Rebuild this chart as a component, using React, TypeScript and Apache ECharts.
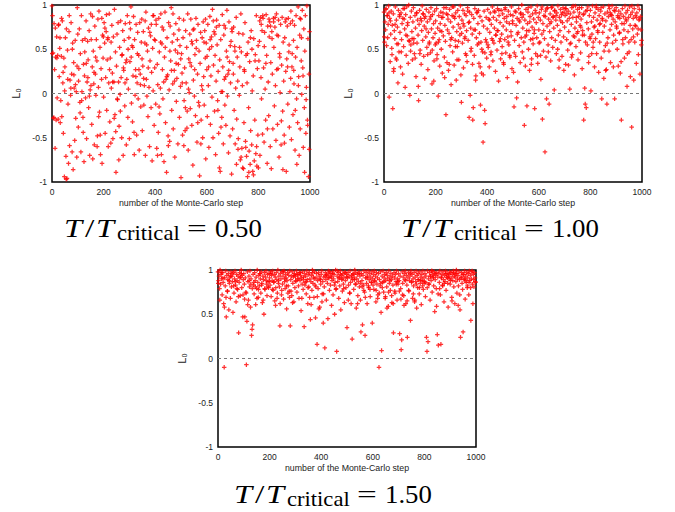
import React, { useEffect, useRef } from "react";
import * as echarts from "echarts";

const xTickValues = [0, 200, 400, 600, 800, 1000];
const yTickValues = [-1, -0.5, 0, 0.5, 1];
const xAxisTitle = "number of the Monte-Carlo step";
const yAxisTitle = "L\u2080";
const ratioLabels = ["0.50", "1.00", "1.50"];

// L0 values (x100) at even Monte-Carlo steps 0,2,4,... and odd steps 1,3,5,...
// T/Tc = 0.50
const l0Ratio050Even = [
  99, 88, 46, -28, 79, 27, -62, 41, -30, 64, -5, 43, -29, 78, 19, 51, -33, -8, 42, -26, 82, 12, -45, 40, -94, 30, 63, -71, 73, -96, 49, -12, -79, 70, -59, 15, -2, 80, 22, -66, 57, -86, 35, 6, -53, 60, -28, 2, -72, 97,
  67, -38, 28, 73, -10, 45, -66, 88, 2, 60, -27, 33, -77, 20, 62, -5, 82, -51, 13, 59, 38, -16, 71, -70, 4, 90, 61, -35, 30, -74, 48, 11, -58, 76, 22, -2, 61, 37, -48, 84, 7, 93, -21, 52, -69, 28, 16, -79, 66, 40,
  -4, 80, 57, -45, 18, 70, -19, 38, 61, -60, 12, 90, -32, 40, -56, 6, 77, 23, -51, 64, 13, 95, -24, 47, -89, 31, 67, -7, 80, 13, -37, 52, -1, 82, 18, -50, 44, 71, -70, 26, 60, -14, 79, 35, -58, 16, 88, -27, 5, 63,
  -51, 36, 73, 98, -11, 54, -32, 20, 87, -44, 61, -2, 27, 78, -47, 12, 69, -6, 43, -64, 80, 22, -15, 58, 84, -42, 31, 70, -13, 9, 57, -70, 92, 16, -3, 48, -26, 74, 7, -60, 37, 65, -16, 24, -76, 51, 3, 88, -36, 29,
  60, -12, 78, -62, 33, 10, -44, 85, 47, -23, 6, 90, -69, 56, 27, -6, 72, -77, 41, 92, -33, 16, -89, 63, 21, -48, 80, 4, -54, 76, 37, 97, -19, 58, 11, -40, 67, 26, -72, 49, 79, -9, 17, 61, -57, 33, 72, -27, 54, 8,
  -95, 45, 23, -47, 63, 83, -8, 29, -42, 71, 12, 52, -20, 90, -64, 39, 1, 67, -17, 84, 31, -36, 56, -81, 15, 73, -3, 44, -25, 85, 60, -55, 22, 78, -10, 48, -93, 34, 69, -30, 9, 63, -50, 81, 19, -13, 71, 40, -74, 57,
  27, -26, 78, 9, -61, 50, 87, -35, 20, 64, -4, 95, -50, 32, 70, -20, 43, -69, 14, 83, 55, -8, 25, -45, 77, 38, -88, 61, 2, -27, 89, 30, -57, 66, 16, -13, 74, -36, 48, 94, -3, 22, -67, 81, 36, -48, 12, 59, -91, 70,
  -40, 34, 75, -19, 53, -57, 6, 86, -29, 41, 14, -51, 68, -2, 30, -75, 90, 47, -62, 9, 67, -85, -33, 25, 80, -54, 43, -71, 12, -94, 58, -16, -65, 36, -80, -42, 71, -58, 3, -88, 20, 62, -76, -30, 44, -68, 88, -82, 28, -47,
  -84, 37, 59, -70, 86, 18, -6, 71, -46, 85, 29, -55, 69, 5, -30, 89, 43, -79, 76, 13, -25, 64, 81, -60, 35, -85, 70, 22, -40, 85, 52, -14, 75, 9, -53, 90, 66, -35, 28, 83, -72, 45, 1, 78, -58, 32, 86, -20, 58, 14,
  -47, 63, 81, 25, -88, 39, 76, -12, 85, 47, -38, 2, 79, 93, -52, 30, 82, -24, 60, 11, 77, -64, 41, 88, -6, 52, -33, 98, 19, -70, 66, -40, 84, 37, -1, 94, 29, -61, 73, -16, 48, 88, -45, 7, 99, -30, 62, -94, 22, 70,
];
const l0Ratio050Odd = [
  45, 81, -31, -27, 67, 9, 74, -35, 58, 40, -92, 18, 77, -4, -41, 63, 33, -76, 85, 49, -18, 24, -83, 69, 3, 55, -66, -97, 37, 61, 16, -24, 72, 88, -48, 29, 6, -58, 93, 50, -13, 65, 21, -87, 44, 10, 76, -39, 31, 59,
  -63, 14, 56, 81, -22, 39, 68, -8, 91, 26, -44, 5, 73, 47, -67, 60, 34, -29, 83, 18, 62, -52, -3, 43, 78, 9, -35, 57, 87, 30, -71, 24, 66, -15, 41, 95, 3, -60, 53, 80, -26, 19, 70, -47, 36, 11, 85, -12, 48, 64,
  31, -55, 74, 8, 51, 89, -37, 20, 63, 42, -82, 27, 79, -10, 58, 35, -63, 13, 92, 54, -28, 70, 16, -43, 86, 39, -6, 61, 25, -75, 48, 81, -20, 7, 67, 43, -52, 93, 29, -33, 58, 12, 84, -65, 38, 73, -4, 50, 22, -41,
  80, 15, -58, 41, 66, -25, 52, 3, 77, -69, 34, 91, 19, -39, 60, 45, -9, 71, 27, -53, 85, 10, 56, -31, 39, 74, -74, 17, 63, -18, 82, 36, -46, 55, 8, 94, 29, -62, 46, 69, 5, -35, 78, 23, -66, 88, 40, -11, 61, 14,
  -31, 83, 50, 21, -70, 64, 38, -15, 87, 9, 58, -49, 30, 75, -81, 44, 13, 69, -25, 52, 96, -42, 19, 61, 35, -59, 80, 6, 48, -17, 73, 26, -86, 57, 90, -32, 41, 14, 66, -52, 34, 79, -7, 46, 22, -64, 85, 55, -20, 39,
  68, -28, 12, 76, 44, -59, 30, 87, -16, 53, 64, -39, 22, 81, 5, -71, 47, 35, 92, -24, 59, 16, -50, 72, 40, -86, 27, 66, -8, 51, 83, 19, -33, 62, 43, -14, 78, 26, -57, 90, 37, 4, -44, 69, 58, -23, 15, 84, -66, 47,
  42, 71, -15, 30, 90, -42, 61, 18, -73, 53, 36, -6, 82, 47, -31, 67, 9, -58, 75, 28, 93, -19, 44, 60, -84, 13, 70, -38, 51, 86, 2, -53, 34, 77, -24, 56, 19, -68, 81, 41, -10, 64, 26, -43, 88, 54, -29, 7, 73, 35,
  -58, 22, 67, -70, 48, -36, 81, -80, 14, 59, -63, 33, -90, 52, -45, 75, -72, 8, 40, -84, 62, -52, 27, -96, 71, -61, 18, -77, 45, -68, 86, -89, 31, -55, 63, -82, 9, 50, -73, 24, -92, 66, -48, 37, -85, 79, -60, 15, -78, 54,
  69, -77, 82, 44, -64, 78, 25, -48, 88, 71, -18, 53, 80, -66, 34, 73, 87, -40, 60, 16, 84, -82, 48, 76, -27, 90, 62, -56, 39, 81, -10, 70, 86, -74, 52, 27, 77, -44, 65, 89, -63, 41, 79, 4, -31, 72, 56, -86, 83, 33,
  -56, 78, 46, 84, -22, 67, 30, -76, 89, 55, -48, 72, 17, 81, -35, 45, 94, -67, 26, 75, 50, -19, 86, 38, -80, 60, 83, 9, -43, 71, 85, 41, -28, 63, 96, -55, 20, 76, 52, -89, 68, 31, -7, 91, 58, -36, 80, 24, -63, 74,
];

// T/Tc = 1.00
const l0Ratio100Even = [
  92, 58, 81, 72, 96, 54, 88, 63, 78, 99, -4, 85, 36, 67, 93, 51, 77, -17, 90, 28, 71, 62, 98, 40, 83, 56, 75, 12, 94, 47, 87, 69, 30, 91, 61, 79, 22, 96, 53, 84, 73, 7, 89, 43, 98, 65, 80, 34, 100, 59,
  -2, 86, 55, 93, 70, 38, 81, 97, 62, 45, 88, 74, 19, 91, 57, 83, 66, -8, 78, 94, 49, 85, 33, 71, 99, 60, 90, 42, 76, 17, 87, 64, 95, 52, 81, 27, 69, 92, 58, 84, 46, 97, 73, 11, 89, 63, 79, 37, 93, 68,
  82, 57, 96, 44, 74, -3, 88, 61, 31, 79, 92, 50, 70, 23, 86, 65, 97, 41, 77, 59, -24, 90, 35, 72, 84, 26, 68, 95, 54, 81, 10, 63, 88, 47, 75, 98, 32, 85, 60, 91, 15, 70, 53, 94, 78, 38, 87, 66, 99, 21,
  -10, 83, 57, 94, 29, 76, 90, 64, 45, 88, 71, 36, 97, 60, 80, -27, 92, -2, 74, 51, 89, 67, -30, -16, 85, 43, 96, 72, 20, 63, 91, 55, 79, 94, 34, 68, 87, -13, 58, 23, 82, 47, -55, 76, 93, -19, -34, 61, 86, 40,
  73, 95, 52, 84, 30, 69, 91, 44, 78, 62, 98, 37, 86, 57, 74, 92, 25, 66, 83, 49, 96, 71, 14, 88, 59, 80, 39, 94, 67, 53, 90, 76, 33, 85, 61, 97, 46, 72, 87, 18, 64, 93, 55, 79, 41, 89, 70, 98, 28, 82,
  88, 24, -15, 60, 93, 42, 77, -5, 85, 13, 69, 96, 54, 81, 35, 91, 63, 100, 47, 74, 89, 58, -36, 83, 31, 95, 66, -14, 79, 92, 50, 71, 26, 87, 61, 98, 39, 75, 90, 56, 84, 68, -17, 94, 45, 80, 63, 99, 34, 86,
  72, 91, 58, 83, 16, 95, 67, -29, 79, 48, 88, 62, -66, 93, 41, -6, 76, 97, 55, 84, -12, 70, 90, 37, 81, 63, 98, 52, 87, 74, 4, 94, 60, 83, 45, 91, 77, 99, 66, 29, 86, 71, 95, 58, 89, 42, 80, 97, 64, 92,
  75, 88, 33, 96, 61, 82, 49, 93, 70, 85, 5, 90, 57, 78, 97, 44, 86, 65, 92, 21, 74, 99, 53, 81, 68, 95, 38, 87, 60, 91, 77, 46, 84, 97, 28, 71, 89, -30, 66, 6, -12, 93, -16, 80, 55, 98, 73, 42, 88, 64,
  94, 3, 81, 67, 99, 52, 86, 75, 30, 91, 62, 97, 45, 83, 71, 95, 24, 88, 58, 79, 93, 40, -6, 85, 69, 98, 17, 76, 90, 54, 82, 27, -12, 92, 63, 87, 48, 96, 72, 35, 89, 78, 99, 57, 84, 66, 94, -6, 81, 60,
  97, 74, 50, 88, 31, 93, 68, 85, 23, 90, -30, 79, 96, 56, 87, 72, 40, 99, 63, 91, 82, 8, 94, 70, 86, 47, 98, 77, 89, 61, -38, 92, 73, 85, 15, 96, 58, 88, 76, 34, 91, 67, 99, 44, 83, 95, 22, 87, 72, 60,
];
const l0Ratio100Odd = [
  64, 83, 41, 95, 70, 52, 88, 35, 76, 91, 59, 9, 82, 67, 97, 44, 73, 86, 25, 61, 93, 78, 50, 84, 38, 68, 99, 56, 80, 16, 89, 63, 74, 47, 92, 58, 85, 31, 71, 96, 53, 81, 66, 20, 90, 77, 42, 87, 60, 95,
  72, 48, 86, 93, 62, 27, 79, 57, 98, 69, 40, 84, 75, 91, 53, 66, 8, 88, 71, 45, 96, 59, 82, 34, 77, 90, 64, 51, 85, 97, 23, 73, 61, 89, 44, 80, 94, 56, 68, 31, 87, 76, 99, 49, 63, 83, 14, 92, 70, 55,
  88, 67, 39, 94, 75, 58, 83, 29, 71, 96, 62, 86, 47, 79, 91, 54, 68, 18, 85, 73, 97, 42, 64, 89, 56, 80, 33, 93, 70, 61, 84, 48, 98, 76, 25, 87, 65, 91, 53, 78, 95, 38, 69, 82, 59, 99, 45, 74, 86, 12,
  68, 91, 50, 79, 36, 87, 62, 97, 74, 43, 84, 58, 93, 27, 70, 81, 64, 96, 48, 76, 89, 33, 60, 85, 72, 98, 52, 15, 78, 66, 92, 41, 83, 57, 95, 69, 30, 87, 75, 50, 90, 62, 21, 80, 94, 46, 71, 84, 58, 97,
  77, 55, 90, 38, 83, 69, 96, 47, 74, 88, 60, 22, 85, 93, 52, 79, 66, 98, 41, 71, 87, 56, 94, 29, 76, 62, 91, 83, 45, 99, 68, 35, 86, 73, 95, 50, 64, 81, 11, 89, 58, 77, 97, 43, 70, 92, 65, 84, 32, 79,
  95, 61, 46, 87, 73, 92, 37, 80, 67, 99, 54, 83, 19, 75, 90, 48, 69, 86, 58, 96, 40, 78, 88, 64, 27, 93, 71, 52, 85, 97, 44, 66, 81, 59, 94, 33, 76, 89, 62, 98, 50, 72, 87, 18, 91, 65, 80, 42, 96, 70,
  57, 86, 94, 43, 78, 65, 98, 31, 82, 71, 90, 52, 87, 24, 75, 96, 60, 84, 47, 92, 68, 79, 35, 89, 97, 55, 73, 86, 41, 63, 93, 80, 13, 88, 69, 99, 50, 77, 85, 38, 95, 61, 82, 72, 46, 91, 58, 87, 26, 78,
  83, 96, 62, 48, 90, 74, 87, 32, 79, 98, 56, 68, 93, 41, 85, 72, 99, 20, 77, 64, 91, 53, 86, 95, 45, 70, 82, 37, 97, 60, 88, 75, 51, 93, 66, 84, 28, 90, 71, 97, 58, 80, 43, 94, 67, 86, 35, 78, 92, 62,
  90, 71, 45, 96, 82, 58, 88, 33, 76, 93, 64, 99, 50, 85, 69, 18, 92, 78, 55, 87, 97, 41, 73, 83, 62, 95, 48, 80, 90, 26, 68, 94, 57, 86, 75, 99, 39, 81, 91, 65, 52, 88, 96, 72, 30, 84, 77, 93, 60, 89,
  76, 93, 55, 86, 42, 98, 69, 81, 90, 36, 74, 95, 61, 87, 50, 79, 92, 28, 84, 66, 97, 45, 73, 89, 58, 94, 80, 19, 88, 70, 99, 53, 82, 64, 91, 39, 77, 95, 60, 86, 46, 90, 73, 97, 31, 84, 67, 93, 55, 88,
];

// T/Tc = 1.50
const l0Ratio150Even = [
  98, 88, 93, 79, 100, 84, 95, 90, 72, 97, 86, 62, -10, 91, 82, 99, 47, 94, 76, 89, 96, 55, 85, 92, 68, 98, 81, 93, 87, 52, 97, 74, 90, 99, 83, 64, 95, 88, 78, 93, 29, 86, 97, 71, 92, 100, 80, 94, 47, 89,
  96, 84, 47, 91, 75, -7, 42, 98, 87, 66, 93, 81, 99, 58, 90, 26, 33, 38, 95, 83, 73, 97, 88, 61, 92, 79, 100, 86, 69, 94, 82, 96, 90, 74, 98, 85, 63, 93, 89, 50, 97, 78, 92, 99, 84, 71, 95, 87, 80, 96,
  91, 83, 98, 70, 94, 88, 99, 77, 86, 95, 65, 92, 80, 97, 89, 74, 100, 85, 93, 81, 37, 96, 90, 72, 98, 84, 93, 67, 99, 87, 79, 95, 91, 56, 88, 97, 82, 94, 76, 99, 37, 89, 93, 71, 98, 85, 92, 64, 96, 80,
  93, 87, 99, 75, 90, 95, 82, 68, 97, 88, 94, 54, 91, 84, 98, 78, 92, 36, 96, 86, 93, 73, 99, 89, 62, 95, 81, 97, 90, 44, 87, 94, 77, 100, 85, 92, 69, 98, 83, 46, 91, 96, 16, 88, 79, 97, 93, 58, 90, 84,
  95, 99, 73, 87, 40, 92, 81, 12, 97, 89, 66, 94, 85, 45, 99, 91, 77, 96, 83, 93, 60, 88, 98, 72, 90, 95, 50, 86, 100, 79, 8, 93, 87, 97, 68, 91, 82, 99, 55, 94, 89, 76, 96, 84, 92, 63, 98, 88, 80, 95,
  35, 91, 97, 83, 93, 74, 99, 86, 62, 94, 22, 89, 96, 78, 92, 100, 84, 97, 57, 90, 95, 71, 87, 98, 81, 93, 66, 30, 96, 88, 38, 94, 83, 99, 75, 26, 91, 97, 85, 62, 93, 99, 80, 89, 96, 70, 92, 86, 98, 40,
  90, 95, 78, 99, 87, 93, 64, 97, 84, 91, 72, 96, -10, 89, 82, 98, 52, 9, 93, 86, 99, 75, 91, 95, 68, 88, 97, 81, 94, 90, 59, 99, 85, 92, 77, 96, 89, 63, 93, 83, 29, 97, 91, 74, 95, 87, 99, 66, 90, 84,
  96, 88, 28, 93, 79, 10, 21, 98, 85, 92, 71, 96, 89, 99, 62, 94, 83, 24, 91, 97, 76, 88, 93, 43, 99, 86, 95, 68, 90, 82, 97, 64, 92, 87, 99, 57, 94, 80, 96, 89, 73, 98, 85, 92, 61, 95, 88, 99, 78, 91,
  87, 96, 70, 93, 24, 8, 99, 19, 90, 84, 97, 66, 93, 88, 99, 75, 95, 91, 82, 98, 53, 89, 94, 79, 97, 27, 92, 15, 96, 86, 99, 72, 16, 91, 95, 83, 98, 89, 64, 94, 87, 99, 77, 92, 96, 85, 58, 93, 90, 98,
  84, 97, 91, 69, 95, 88, 99, 81, 93, 62, 96, 87, 100, 74, 90, 94, 82, 98, 89, 55, 24, 92, 97, 85, 78, 30, 95, 89, 99, 67, 93, 86, 97, 80, 91, 96, 72, 99, 88, 94, 43, 90, 98, 84, 62, 95, 81, 97, 91, 86,
];
const l0Ratio150Odd = [
  85, 72, 94, 66, 89, 78, 97, 61, 83, 91, 74, 87, 58, 95, 80, 69, 92, 84, 76, 99, 63, 88, 81, 71, 93, 86, 77, 96, 68, 90, 82, 73, 98, 87, 60, 94, 79, 89, 85, 70, 97, 75, 91, 64, 83, 96, 78, 88, 72, 93,
  80, 67, 91, 86, 74, 98, 82, 61, 94, 77, 88, 70, 95, 84, 57, 90, 79, 97, 73, 86, 63, 92, 81, 76, 99, 68, 87, 93, 78, 84, 59, 96, 72, 89, 83, 75, 94, 66, 90, 85, 79, 97, 70, 88, 62, 93, 81, 76, 95, 87,
  72, 89, 96, 64, 83, 78, 93, 70, 87, 99, 75, 60, 91, 84, 68, 95, 80, 88, 73, 97, 62, 86, 92, 77, 83, 71, 98, 88, 65, 90, 79, 94, 82, 58, 87, 74, 96, 89, 69, 93, 81, 76, 99, 85, 63, 91, 78, 94, 70, 86,
  88, 76, 63, 95, 82, 71, 90, 86, 59, 97, 79, 84, 68, 93, 75, 89, 98, 66, 83, 91, 73, 87, 54, 96, 80, 77, 94, 69, 88, 85, 61, 92, 78, 97, 72, 86, 90, 64, 95, 81, 74, 99, 70, 87, 83, 56, 93, 79, 89, 76,
  90, 64, 84, 97, 73, 88, 79, 93, 61, 86, 95, 70, 82, 91, 75, 57, 98, 85, 68, 92, 80, 74, 96, 63, 89, 83, 71, 94, 78, 87, 60, 99, 81, 72, 91, 86, 67, 95, 77, 84, 90, 62, 93, 79, 88, 70, 97, 83, 75, 92,
  78, 93, 66, 86, 97, 74, 82, 59, 91, 88, 70, 95, 80, 64, 89, 76, 98, 84, 71, 93, 62, 87, 79, 96, 73, 90, 85, 67, 94, 81, 55, 92, 77, 88, 99, 69, 84, 75, 91, 63, 96, 82, 72, 89, 78, 94, 66, 86, 80, 97,
  83, 71, 95, 88, 63, 91, 77, 86, 98, 68, 82, 93, 74, 60, 89, 85, 96, 72, 80, 92, 66, 87, 78, 99, 70, 84, 90, 57, 94, 81, 75, 97, 65, 88, 83, 92, 71, 79, 95, 62, 86, 90, 76, 98, 69, 84, 93, 73, 87, 80,
  91, 76, 84, 97, 67, 89, 82, 72, 94, 86, 60, 92, 79, 88, 74, 98, 65, 85, 93, 77, 90, 70, 96, 83, 58, 87, 81, 94, 73, 91, 86, 66, 99, 78, 84, 92, 71, 89, 63, 95, 80, 75, 97, 88, 69, 93, 82, 77, 90, 85,
  74, 95, 86, 68, 91, 80, 97, 72, 84, 89, 61, 93, 78, 87, 99, 70, 85, 92, 66, 81, 96, 76, 88, 59, 94, 83, 73, 90, 97, 79, 64, 86, 92, 75, 98, 82, 69, 89, 85, 93, 71, 96, 80, 62, 91, 87, 77, 95, 84, 72,
  88, 79, 94, 65, 90, 83, 97, 74, 86, 92, 69, 81, 96, 77, 89, 60, 93, 85, 72, 98, 80, 91, 67, 87, 95, 76, 83, 90, 63, 94, 88, 71, 97, 82, 78, 92, 86, 58, 95, 80, 74, 91, 99, 84, 68, 89, 93, 76, 87, 81,
];

// The odd-step measurements are only kept every sixth step (1, 7, 13, ...)
const ODD_KEEP_EVERY = 3;

const PLUS = "path://M1.8,0H3.2V1.8H5V3.2H3.2V5H1.8V3.2H0V1.8H1.8Z";

const layouts = [
  { left: 52, top: 5, capX: 63, capBase: 237 },
  { left: 384, top: 5, capX: 400, capBase: 237 },
  { left: 218, top: 270, capX: 233, capBase: 503 },
];

function toPoints(even: number[], odd: number[]) {
  const pts: number[][] = [];
  even.forEach((v, k) => pts.push([2 * k, v / 100]));
  odd.forEach((v, k) => {
    if (k % ODD_KEEP_EVERY === 0) pts.push([2 * k + 1, v / 100]);
  });
  return pts;
}

function caption(x0: number, base: number, value: string) {
  const serif = '"Liberation Serif", "Times New Roman", serif';
  const mk = (text: string, dx: number, size: number, italic: boolean, sx: number, b: number) => ({
    type: "text",
    x: x0 + dx,
    y: b - 0.3375 * size,
    scaleX: sx,
    silent: true,
    style: {
      text,
      fontSize: size,
      fontFamily: serif,
      fontStyle: italic ? "italic" : "normal",
      fontWeight: "normal",
      fill: "#000",
      textAlign: "left",
      textVerticalAlign: "middle",
      align: "left",
      verticalAlign: "middle",
    },
  });
  return [
    mk("T", 1, 26, true, 1.25, base),
    mk("/", 22, 26, false, 1.3, base),
    mk("T", 33, 26, true, 1.25, base),
    mk("critical", 54, 20, false, 1.13, base + 3.5),
    mk("=", 124, 26, false, 1.35, base),
    mk(value, 152, 26, false, 1.03, base),
  ];
}

export default function App() {
  const ref = useRef<HTMLDivElement>(null);
  useEffect(() => {
    if (!ref.current) return;
    const chart = echarts.init(ref.current, undefined, { renderer: "svg" });
    const datasets = [
      toPoints(l0Ratio050Even, l0Ratio050Odd),
      toPoints(l0Ratio100Even, l0Ratio100Odd),
      toPoints(l0Ratio150Even, l0Ratio150Odd),
    ];
    const sans = '"Liberation Sans", Arial, Helvetica, sans-serif';
    const option: any = {
      animation: false,
      grid: layouts.map((l) => ({
        left: l.left,
        top: l.top,
        width: 258,
        height: 177,
        show: true,
        borderColor: "#000",
        borderWidth: 1.5,
        backgroundColor: "transparent",
      })),
      xAxis: layouts.map((_, i) => ({
        gridIndex: i,
        type: "value",
        min: xTickValues[0],
        max: xTickValues[xTickValues.length - 1],
        interval: xTickValues[1] - xTickValues[0],
        axisLine: { show: false },
        axisTick: { show: false },
        splitLine: { show: false },
        axisLabel: {
          fontSize: 8.5,
          color: "#222",
          margin: 5,
          fontFamily: sans,
          formatter: (v: number) => String(v),
        },
        name: xAxisTitle,
        nameLocation: "middle",
        nameGap: 16,
        nameTextStyle: { fontSize: 8.8, color: "#222", fontFamily: sans },
      })),
      yAxis: layouts.map((_, i) => ({
        gridIndex: i,
        type: "value",
        min: yTickValues[0],
        max: yTickValues[yTickValues.length - 1],
        interval: yTickValues[1] - yTickValues[0],
        axisLine: { show: false },
        axisTick: { show: false },
        splitLine: { show: false },
        axisLabel: {
          fontSize: 8.5,
          color: "#222",
          margin: 5,
          fontFamily: sans,
          formatter: (v: number) => String(v),
        },
        name: yAxisTitle,
        nameLocation: "middle",
        nameGap: 31,
        nameRotate: 90,
        nameTextStyle: { fontSize: 11, color: "#222", fontFamily: sans },
      })),
      series: datasets.map((pts, i) => ({
        type: "scatter",
        xAxisIndex: i,
        yAxisIndex: i,
        symbol: PLUS,
        symbolSize: 4.5,
        itemStyle: { color: "#ff0000" },
        data: pts,
        markLine: {
          silent: true,
          symbol: ["none", "none"],
          label: { show: false },
          lineStyle: { color: "#777", type: [3, 3], width: 1 },
          data: [{ yAxis: 0 }],
          z: 1,
        },
      })),
      graphic: layouts.flatMap((l, i) => caption(l.capX, l.capBase, ratioLabels[i])),
    };
    chart.setOption(option);
    return () => chart.dispose();
  }, []);
  return (
    <div
      ref={ref}
      style={{ position: "absolute", left: 0, top: 0, width: 675, height: 512 }}
    />
  );
}
